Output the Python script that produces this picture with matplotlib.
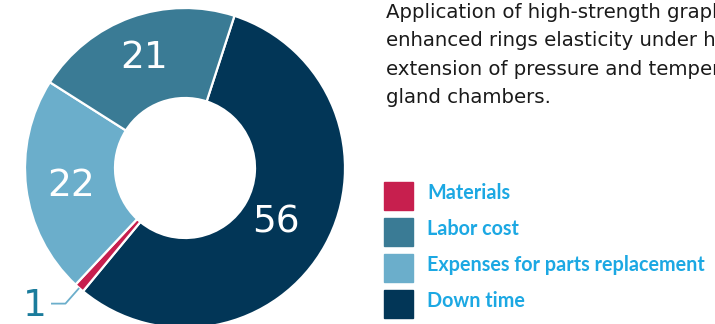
import numpy as np
import matplotlib.pyplot as plt
from matplotlib.patches import Rectangle

plt.rcParams["font.family"] = ["Lato", "DejaVu Sans"]

# ---------------------------------------------------------------- data
pie_labels = ["Down time", "Materials", "Expenses for parts replacement", "Labor cost"]
pie_values = [56, 1, 22, 21]
pie_colors = ["#023657", "#C71F4E", "#6BAECB", "#3A7B95"]

legend_labels = ["Materials", "Labor cost", "Expenses for parts replacement", "Down time"]
legend_colors = ["#C71F4E", "#3A7B95", "#6BAECB", "#023657"]

note_lines = ["Application of high-strength graphite rings provides",
              "enhanced rings elasticity under high pressure,",
              "extension of pressure and temperature range in",
              "gland chambers."]

# radial position of each value label (fraction of outer radius), pie order
label_r = [0.65, 1.0, 0.72, 0.76]

W, H = 715, 324
fig = plt.figure(figsize=(W / 100, H / 100), dpi=100)

# donut axes: centre ~(185,168) px, outer radius ~160 px
cx, cy, R = 185, 168, 160
ax = fig.add_axes([(cx - R) / W, (H - cy - R) / H, 2 * R / W, 2 * R / H])

start = 72  # matplotlib degrees, clockwise wedges
wedges, _ = ax.pie(pie_values, colors=pie_colors, startangle=start, counterclock=False,
                   radius=1.0, wedgeprops=dict(width=90 / 160, edgecolor="white", linewidth=1.6))
for a in wedges:
    a.set_clip_on(False)
ax.set_xlim(-1, 1); ax.set_ylim(-1, 1); ax.set_aspect("equal")
ax.axis("off")

total = sum(pie_values)
ang = start
for lab, v, r in zip(pie_labels, pie_values, label_r):
    mid = np.deg2rad(ang - v / total * 360 / 2)
    ang -= v / total * 360
    if v < 5:
        x0, y0 = np.cos(mid) * r, np.sin(mid) * r
        x1, y1 = np.cos(mid) * 1.13, np.sin(mid) * 1.13
        ax.plot([x0, x1, x1 - 0.09], [y0, y1, y1], color="#6BAECB", lw=1.3,
                clip_on=False, solid_capstyle="butt")
        ax.text(x1 - 0.115, y1 + 0.01, str(v), color="#1B7C9C", fontsize=27,
                family="DejaVu Sans", ha="right", va="center_baseline", clip_on=False)
    else:
        ax.text(np.cos(mid) * r, np.sin(mid) * r, str(v), color="white",
                fontsize=27, family="DejaVu Sans", ha="center", va="center_baseline")

# ---------------------------------------------------------------- note text
for i, line in enumerate(note_lines):
    fig.text(386 / W, 1 - (18 + i * 28.3) / H, line, fontsize=14.2, color="#1a1a1a",
             family="DejaVu Sans", ha="left", va="baseline")

# ---------------------------------------------------------------- legend
for i, (lab, col) in enumerate(zip(legend_labels, legend_colors)):
    top = 182 + i * 36
    fig.patches.append(Rectangle((384 / W, 1 - (top + 28) / H), 29 / W, 28 / H,
                                 transform=fig.transFigure, color=col))
    fig.text(427 / W, 1 - (top + 9) / H, lab, fontsize=14.2, color="#1CA8E3",
             fontweight="bold", ha="left", va="center_baseline")

fig.savefig("out.png", dpi=100)
